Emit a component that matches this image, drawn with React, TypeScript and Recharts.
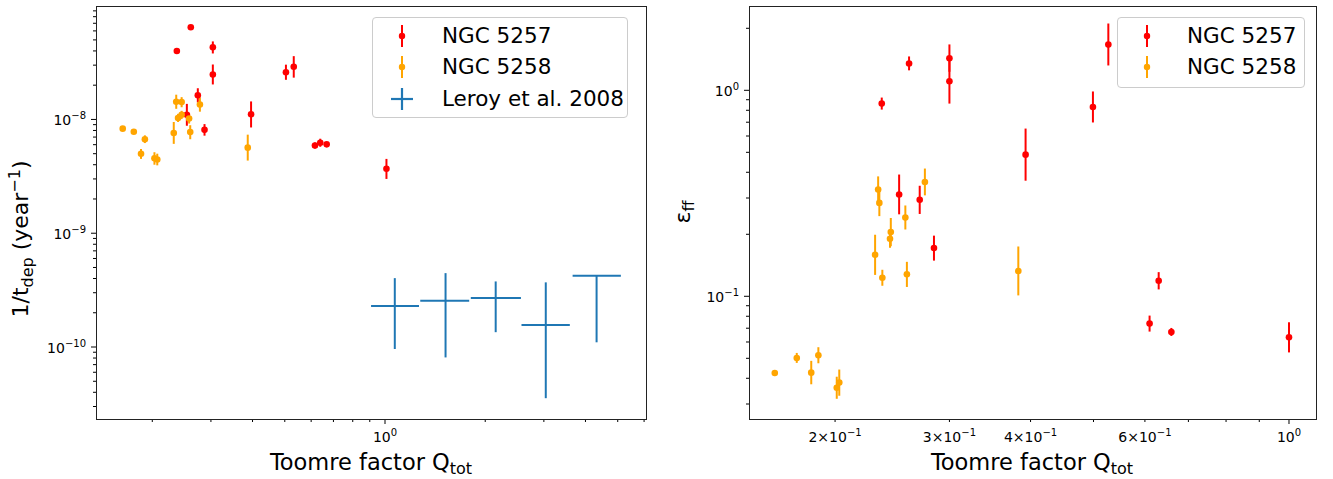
import React from 'react';
import { ScatterChart, Scatter, XAxis, YAxis, ErrorBar, Legend } from 'recharts';

const FONT = '"DejaVu Sans", sans-serif';
const RED = '#ff0000';
const ORANGE = '#ffa500';
const BLUE = '#1f77b4';

// left panel: [Q_tot, 1/t_dep (yr^-1), bar bottom, bar top]
const ngc5257Dep = [
  [0.261, 6.45e-8, 6.2e-8, 6.7e-8],
  [0.237, 4.0e-8, 3.85e-8, 4.15e-8],
  [0.304, 4.3e-8, 3.8e-8, 4.85e-8],
  [0.304, 2.48e-8, 2.03e-8, 3.04e-8],
  [0.274, 1.63e-8, 1.41e-8, 1.88e-8],
  [0.254, 1.1e-8, 8.8e-9, 1.37e-8],
  [0.287, 8.1e-9, 7.2e-9, 9.1e-9],
  [0.396, 1.11e-8, 8.5e-9, 1.44e-8],
  [0.504, 2.6e-8, 2.23e-8, 3.03e-8],
  [0.532, 2.9e-8, 2.33e-8, 3.6e-8],
  [0.616, 5.9e-9, 5.55e-9, 6.27e-9],
  [0.639, 6.24e-9, 5.75e-9, 6.77e-9],
  [0.668, 6.04e-9, 5.8e-9, 6.3e-9],
  [1.01, 3.69e-9, 3.0e-9, 4.5e-9],
];

const ngc5258Dep = [
  [0.163, 8.3e-9, 8.1e-9, 8.5e-9],
  [0.176, 7.8e-9, 7.6e-9, 8.0e-9],
  [0.19, 6.7e-9, 6.2e-9, 7.25e-9],
  [0.185, 5.0e-9, 4.5e-9, 5.5e-9],
  [0.203, 4.55e-9, 4.0e-9, 5.15e-9],
  [0.207, 4.45e-9, 3.95e-9, 5.0e-9],
  [0.232, 7.6e-9, 6.1e-9, 9.5e-9],
  [0.236, 1.43e-8, 1.24e-8, 1.65e-8],
  [0.245, 1.42e-8, 1.28e-8, 1.57e-8],
  [0.239, 1.03e-8, 9.5e-9, 1.12e-8],
  [0.245, 1.1e-8, 1.01e-8, 1.19e-8],
  [0.258, 1.02e-8, 9.2e-9, 1.13e-8],
  [0.26, 7.74e-9, 6.7e-9, 8.9e-9],
  [0.278, 1.35e-8, 1.17e-8, 1.56e-8],
  [0.387, 5.65e-9, 4.35e-9, 7.35e-9],
];

// [Q_tot, Q low, Q high, 1/t_dep, bar bottom, bar top]
const leroy2008 = [
  [1.07, 0.908, 1.265, 2.29e-10, 9.6e-11, 4.03e-10],
  [1.52, 1.276, 1.79, 2.55e-10, 8.1e-11, 4.46e-10],
  [2.15, 1.81, 2.56, 2.7e-10, 1.35e-10, 3.77e-10],
  [3.04, 2.57, 3.59, 1.56e-10, 3.55e-11, 3.7e-10],
  [4.32, 3.66, 5.11, 4.22e-10, 1.1e-10, 4.22e-10],
];

// right panel: [Q_tot, eps_ff, bar bottom, bar top]
const ngc5257Eff = [
  [0.236, 0.862, 0.806, 0.922],
  [0.26, 1.35, 1.25, 1.46],
  [0.3, 1.43, 1.23, 1.67],
  [0.3, 1.106, 0.862, 1.42],
  [0.251, 0.312, 0.25, 0.39],
  [0.27, 0.294, 0.251, 0.344],
  [0.284, 0.1716, 0.149, 0.197],
  [0.527, 1.667, 1.32, 2.11],
  [0.499, 0.83, 0.698, 0.987],
  [0.393, 0.487, 0.364, 0.652],
  [0.63, 0.119, 0.108, 0.131],
  [0.61, 0.0737, 0.0674, 0.0806],
  [0.659, 0.0671, 0.0642, 0.0702],
  [1.0, 0.0632, 0.0534, 0.0748],
];

const ngc5258Eff = [
  [0.233, 0.33, 0.285, 0.382],
  [0.234, 0.284, 0.245, 0.329],
  [0.275, 0.359, 0.309, 0.417],
  [0.2566, 0.241, 0.211, 0.276],
  [0.2437, 0.205, 0.175, 0.24],
  [0.243, 0.19, 0.172, 0.21],
  [0.2305, 0.159, 0.127, 0.199],
  [0.2365, 0.123, 0.1125, 0.1345],
  [0.258, 0.128, 0.111, 0.147],
  [0.383, 0.1327, 0.101, 0.1745],
  [0.1615, 0.0424, 0.041, 0.0438],
  [0.1746, 0.0502, 0.0475, 0.0531],
  [0.1838, 0.0426, 0.0374, 0.0486],
  [0.1885, 0.0517, 0.0473, 0.0566],
  [0.2012, 0.036, 0.0318, 0.0407],
  [0.203, 0.0381, 0.0329, 0.0441],
];

// axes
const leftQDomain = [0.1355, 6.08];
const depDomain = [2.33e-11, 9.93e-8];
const rightQDomain = [0.1474, 1.1005];
const effDomain = [0.02537, 2.566];

const mantissas = [1, 2, 3, 4, 5, 6, 7, 8, 9];
const depDecades = [1e-11, 1e-10, 1e-9, 1e-8];
const effDecades = [0.01, 0.1, 1];
const leftQTicks = [0.2, 0.3, 0.4, 0.5, 0.6, 0.7, 0.8, 0.9, 1, 2, 3, 4, 5, 6];
const rightQTicks = [0.2, 0.3, 0.4, 0.5, 0.6, 0.7, 0.8, 0.9, 1];

const leftQLabels: Record<string, string[]> = { '1': ['10', '0'] };
const rightQLabels: Record<string, string[]> = {
  '0.2': ['2\u00d710', '\u22121'],
  '0.3': ['3\u00d710', '\u22121'],
  '0.4': ['4\u00d710', '\u22121'],
  '0.6': ['6\u00d710', '\u22121'],
  '1': ['10', '0'],
};
const depLabels: Record<string, string[]> = {
  '1e-10': ['10', '\u221210'],
  '1e-9': ['10', '\u22129'],
  '1e-8': ['10', '\u22128'],
};
const effLabels: Record<string, string[]> = {
  '0.1': ['10', '\u22121'],
  '1': ['10', '0'],
};

const leftLegend = [
  { label: 'NGC 5257', color: RED, kind: 'bar' },
  { label: 'NGC 5258', color: ORANGE, kind: 'bar' },
  { label: 'Leroy et al. 2008', color: BLUE, kind: 'cross' },
];
const rightLegend = [
  { label: 'NGC 5257', color: RED, kind: 'bar' },
  { label: 'NGC 5258', color: ORANGE, kind: 'bar' },
];

const key = (v: number) => String(Number(v.toPrecision(6)));
const isMajor = (v: number) => {
  const l = Math.log10(v);
  return Math.abs(l - Math.round(l)) < 1e-6;
};
const logTicks = (decades: number[], domain: number[]) =>
  decades.flatMap((d) => mantissas.map((m) => m * d)).filter((v) => v >= domain[0] && v <= domain[1]);

const toPoints = (rows: number[][]) =>
  rows.map(([q, v, lo, hi]) => ({ q, v, vErr: [v - lo, hi - v] }));

const leroyPoints = leroy2008.map(([q, qlo, qhi, v, lo, hi]) => ({
  q,
  v,
  qErr: [q - qlo, qhi - q],
  vErr: [v - lo, hi - v],
}));

const TickLabel = ({ x, y, anchor, lab }: any) => (
  <text x={x} y={y} textAnchor={anchor} fontSize={14} fill="#000" fontFamily={FONT}>
    {lab[0]}
    <tspan dy={-6} fontSize={10}>
      {lab[1]}
    </tspan>
  </text>
);

const bottomTick = (labels: Record<string, string[]>) => (props: any) => {
  const { x, y, payload } = props;
  const v = payload.value;
  const len = isMajor(v) ? 5 : 3;
  const lab = labels[key(v)];
  return (
    <g>
      <line x1={x} x2={x} y1={y} y2={y + len} stroke="#000" strokeWidth={1} />
      {lab && <TickLabel x={x} y={y + 23} anchor="middle" lab={lab} />}
    </g>
  );
};

const leftTick = (labels: Record<string, string[]>) => (props: any) => {
  const { x, y, payload } = props;
  const v = payload.value;
  const len = isMajor(v) ? 5 : 3;
  const lab = labels[key(v)];
  return (
    <g>
      <line x1={x - len} x2={x} y1={y} y2={y} stroke="#000" strokeWidth={1} />
      {lab && <TickLabel x={x - 10} y={y + 6} anchor="end" lab={lab} />}
    </g>
  );
};

const dot = (color: string) => (p: any) => <circle cx={p.cx} cy={p.cy} r={3.3} fill={color} />;
const noDot = () => <g />;

const LegendBox = ({ items }: { items: typeof leftLegend }) => (
  <div
    style={{
      position: 'relative',
      width: '100%',
      height: '100%',
      boxSizing: 'border-box',
      border: '1px solid #cccccc',
      borderRadius: 4,
      background: 'rgba(255,255,255,0.8)',
      fontFamily: FONT,
    }}
  >
    {items.map((it, i) => (
      <div key={it.label} style={{ position: 'absolute', left: 0, top: 1.5 + i * 31.5, height: 31.5, width: '100%' }}>
        <svg width={60} height={32} style={{ position: 'absolute', left: 0, top: 0 }}>
          {it.kind === 'bar' ? (
            <g>
              <line x1={29} x2={29} y1={5} y2={27} stroke={it.color} strokeWidth={2} />
              <circle cx={29} cy={16} r={3.2} fill={it.color} />
            </g>
          ) : (
            <g>
              <line x1={18} x2={40} y1={16} y2={16} stroke={it.color} strokeWidth={2.2} />
              <line x1={29} x2={29} y1={5} y2={27} stroke={it.color} strokeWidth={2.2} />
            </g>
          )}
        </svg>
        <span style={{ position: 'absolute', left: 69, top: 3, fontSize: 21.5, lineHeight: '25px', color: '#000', whiteSpace: 'nowrap' }}>
          {it.label}
        </span>
      </div>
    ))}
  </div>
);

const Frame = ({ left, top, width, height }: any) => (
  <div
    style={{
      position: 'absolute',
      left,
      top,
      width: width + 1,
      height: height + 1,
      boxSizing: 'border-box',
      border: '1px solid #222',
      pointerEvents: 'none',
    }}
  />
);

const App = () => {
  return (
    <div style={{ position: 'absolute', left: 0, top: 0, width: 1333, height: 479, background: '#fff', fontFamily: FONT }}>
      {/* left panel: depletion rate */}
      <div style={{ position: 'absolute', left: 0, top: 0 }}>
        <ScatterChart width={660} height={479} margin={{ top: 6, right: 14, bottom: 0, left: 16 }}>
          <XAxis
            dataKey="q"
            type="number"
            scale="log"
            domain={leftQDomain}
            allowDataOverflow
            ticks={leftQTicks}
            interval={0}
            height={60}
            axisLine={false}
            tickLine={false}
            tickSize={0}
            tickMargin={0}
            tick={bottomTick(leftQLabels)}
          />
          <YAxis
            dataKey="v"
            type="number"
            scale="log"
            domain={depDomain}
            allowDataOverflow
            ticks={logTicks(depDecades, depDomain)}
            interval={0}
            width={80}
            axisLine={false}
            tickLine={false}
            tickSize={0}
            tickMargin={0}
            tick={leftTick(depLabels)}
          />
          <Legend
            layout="vertical"
            align="center"
            verticalAlign="middle"
            wrapperStyle={{ left: 372, top: 17, width: 256, height: 101 }}
            content={() => <LegendBox items={leftLegend} />}
          />
          <Scatter name="NGC 5257" data={toPoints(ngc5257Dep)} shape={dot(RED)} isAnimationActive={false}>
            <ErrorBar dataKey="vErr" direction="y" width={0} stroke={RED} strokeWidth={2} isAnimationActive={false} />
          </Scatter>
          <Scatter name="NGC 5258" data={toPoints(ngc5258Dep)} shape={dot(ORANGE)} isAnimationActive={false}>
            <ErrorBar dataKey="vErr" direction="y" width={0} stroke={ORANGE} strokeWidth={2} isAnimationActive={false} />
          </Scatter>
          <Scatter name="Leroy et al. 2008" data={leroyPoints} shape={noDot} isAnimationActive={false}>
            <ErrorBar dataKey="qErr" direction="x" width={0} stroke={BLUE} strokeWidth={2} isAnimationActive={false} />
            <ErrorBar dataKey="vErr" direction="y" width={0} stroke={BLUE} strokeWidth={2} isAnimationActive={false} />
          </Scatter>
        </ScatterChart>
      </div>

      {/* right panel: efficiency per free-fall time */}
      <div style={{ position: 'absolute', left: 680, top: 0 }}>
        <ScatterChart width={653} height={479} margin={{ top: 6, right: 17, bottom: 0, left: 9 }}>
          <XAxis
            dataKey="q"
            type="number"
            scale="log"
            domain={rightQDomain}
            allowDataOverflow
            ticks={rightQTicks}
            interval={0}
            height={60}
            axisLine={false}
            tickLine={false}
            tickSize={0}
            tickMargin={0}
            tick={bottomTick(rightQLabels)}
          />
          <YAxis
            dataKey="v"
            type="number"
            scale="log"
            domain={effDomain}
            allowDataOverflow
            ticks={logTicks(effDecades, effDomain)}
            interval={0}
            width={60}
            axisLine={false}
            tickLine={false}
            tickSize={0}
            tickMargin={0}
            tick={leftTick(effLabels)}
          />
          <Legend
            layout="vertical"
            align="center"
            verticalAlign="middle"
            wrapperStyle={{ left: 437, top: 17, width: 188, height: 71 }}
            content={() => <LegendBox items={rightLegend} />}
          />
          <Scatter name="NGC 5257" data={toPoints(ngc5257Eff)} shape={dot(RED)} isAnimationActive={false}>
            <ErrorBar dataKey="vErr" direction="y" width={0} stroke={RED} strokeWidth={2} isAnimationActive={false} />
          </Scatter>
          <Scatter name="NGC 5258" data={toPoints(ngc5258Eff)} shape={dot(ORANGE)} isAnimationActive={false}>
            <ErrorBar dataKey="vErr" direction="y" width={0} stroke={ORANGE} strokeWidth={2} isAnimationActive={false} />
          </Scatter>
        </ScatterChart>
      </div>

      <Frame left={96} top={6} width={550} height={413} />
      <Frame left={749} top={6} width={567} height={413} />

      {/* axis titles */}
      <svg width={1333} height={479} style={{ position: 'absolute', left: 0, top: 0, pointerEvents: 'none' }} fontFamily={FONT}>
        <text x={371} y={470} textAnchor="middle" fontSize={22.5} fill="#000">
          Toomre factor Q
          <tspan dy={4} fontSize={16}>tot</tspan>
        </text>
        <text x={1032} y={470} textAnchor="middle" fontSize={22.5} fill="#000">
          Toomre factor Q
          <tspan dy={4} fontSize={16}>tot</tspan>
        </text>
        <text transform="translate(28,239) rotate(-90)" textAnchor="middle" fontSize={22} fill="#000">
          1/t
          <tspan dy={5} fontSize={16}>dep</tspan>
          <tspan dy={-5}>{' (year'}</tspan>
          <tspan dy={-8} fontSize={16}>{'\u22121'}</tspan>
          <tspan dy={8}>)</tspan>
        </text>
        <text transform="translate(690,212) rotate(-90)" textAnchor="middle" fontSize={22} fill="#000">
          {'\u03b5'}
          <tspan dy={4} fontSize={16}>ff</tspan>
        </text>
      </svg>
    </div>
  );
};

export default App;
